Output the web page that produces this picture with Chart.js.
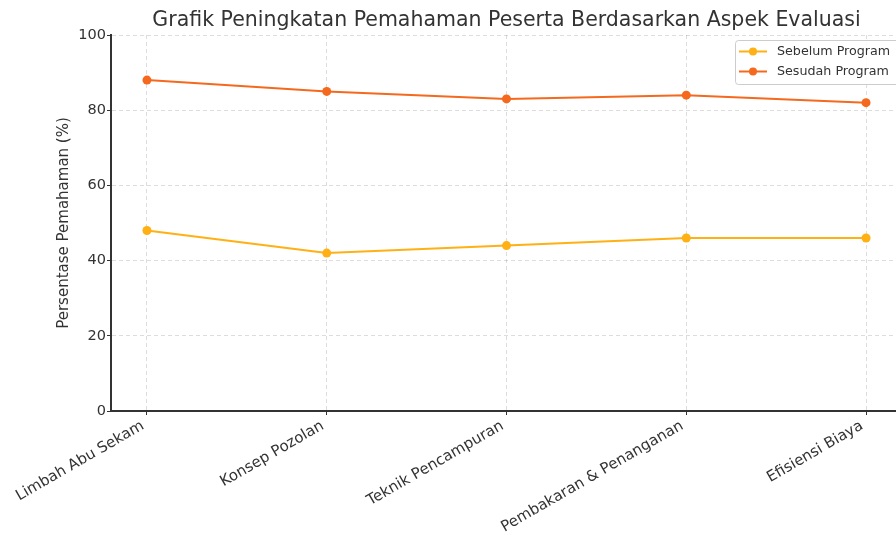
<!DOCTYPE html>
<html>
<head>
<meta charset="utf-8">
<script src="https://cdn.jsdelivr.net/npm/chart.js@4"></script>
<style>
html,body{margin:0;padding:0;background:#fff;overflow:hidden;width:896px;height:535px;}
#wrap{width:910px;height:535px;position:relative;}
</style>
</head>
<body>
<div id="wrap"><canvas id="c" width="910" height="535"></canvas></div>
<script>
const categories = ["Limbah Abu Sekam", "Konsep Pozolan", "Teknik Pencampuran", "Pembakaran & Penanganan", "Efisiensi Biaya"];
const sebelum = [48, 42, 44, 46, 46];
const sesudah = [88, 85, 83, 84, 82];
const yTicks = [0, 20, 40, 60, 80, 100];
const seriesNames = ["Sebelum Program", "Sesudah Program"];
const titleText = "Grafik Peningkatan Pemahaman Peserta Berdasarkan Aspek Evaluasi";
const yTitle = "Persentase Pemahaman (%)";

const C1 = '#FFB014', C2 = '#F5691E';
const FONT = "'DejaVu Sans', sans-serif";

const toPts = arr => arr.map((v, i) => ({x: i, y: v}));

const legendPlugin = {
  id: 'mplLegend',
  afterDraw(chart) {
    const ctx = chart.ctx;
    const x0 = 735, y0 = 40, w = 164, h = 44;
    ctx.save();
    ctx.fillStyle = 'rgba(255,255,255,0.85)';
    ctx.strokeStyle = '#cccccc';
    ctx.lineWidth = 1;
    ctx.beginPath();
    ctx.roundRect(x0 + 0.5, y0 + 0.5, w, h, 3);
    ctx.fill(); ctx.stroke();
    chart.data.datasets.forEach((ds, i) => {
      const y = y0 + 11.5 + i * 20;
      ctx.strokeStyle = ds.borderColor;
      ctx.lineWidth = 2;
      ctx.beginPath(); ctx.moveTo(739, y); ctx.lineTo(767, y); ctx.stroke();
      ctx.fillStyle = ds.borderColor;
      ctx.beginPath(); ctx.arc(753, y, 4, 0, Math.PI * 2); ctx.fill();
      ctx.fillStyle = '#333333';
      ctx.font = "12.7px " + FONT;
      ctx.textBaseline = 'middle';
      ctx.textAlign = 'left';
      ctx.fillText(ds.label, 777, y);
    });
    ctx.restore();
  }
};

const gridOpts = {color: 'rgba(0,0,0,0.17)', lineWidth: 0.8, tickColor: '#333333', tickLength: 4, tickWidth: 1, tickBorderDash: []};
const borderOpts = {display: true, color: '#333333', width: 2, dash: [4, 3]};

new Chart(document.getElementById('c'), {
  type: 'line',
  data: {
    datasets: [
      {label: seriesNames[0], data: toPts(sebelum), borderColor: C1, backgroundColor: C1, borderWidth: 2, pointRadius: 4.5, pointBackgroundColor: C1, pointBorderWidth: 0, tension: 0},
      {label: seriesNames[1], data: toPts(sesudah), borderColor: C2, backgroundColor: C2, borderWidth: 2, pointRadius: 4.5, pointBackgroundColor: C2, pointBorderWidth: 0, tension: 0}
    ]
  },
  options: {
    responsive: false,
    animation: false,
    layout: {padding: {left: 0, right: 8, top: 0, bottom: 0}},
    plugins: {
      legend: {display: false},
      tooltip: {enabled: false},
      title: {
        display: true, text: titleText, fullSize: false,
        color: '#333333', font: {family: FONT, size: 20.5, weight: 'normal', lineHeight: 1.2},
        padding: {top: 8, bottom: 2.4}
      }
    },
    scales: {
      x: {
        type: 'linear', min: -0.2, max: 4.2,
        afterBuildTicks: s => { s.ticks = categories.map((_, i) => ({value: i})); },
        afterFit: s => { s.height = 124; },
        ticks: {
          autoSkip: false, maxRotation: 30, minRotation: 30, padding: 2, labelOffset: -4,
          color: '#333333', font: {family: FONT, size: 15},
          callback: v => categories[v]
        },
        grid: gridOpts,
        border: borderOpts
      },
      y: {
        min: 0, max: 100,
        afterBuildTicks: s => { s.ticks = yTicks.map(v => ({value: v})); },
        afterFit: s => { s.width = 111; },
        ticks: {color: '#333333', font: {family: FONT, size: 14.5}, padding: 1},
        title: {display: true, text: yTitle, color: '#333333', font: {family: FONT, size: 15}, padding: {top: 55, bottom: 0}},
        grid: gridOpts,
        border: borderOpts
      }
    }
  },
  plugins: [legendPlugin]
});
</script>
</body>
</html>
